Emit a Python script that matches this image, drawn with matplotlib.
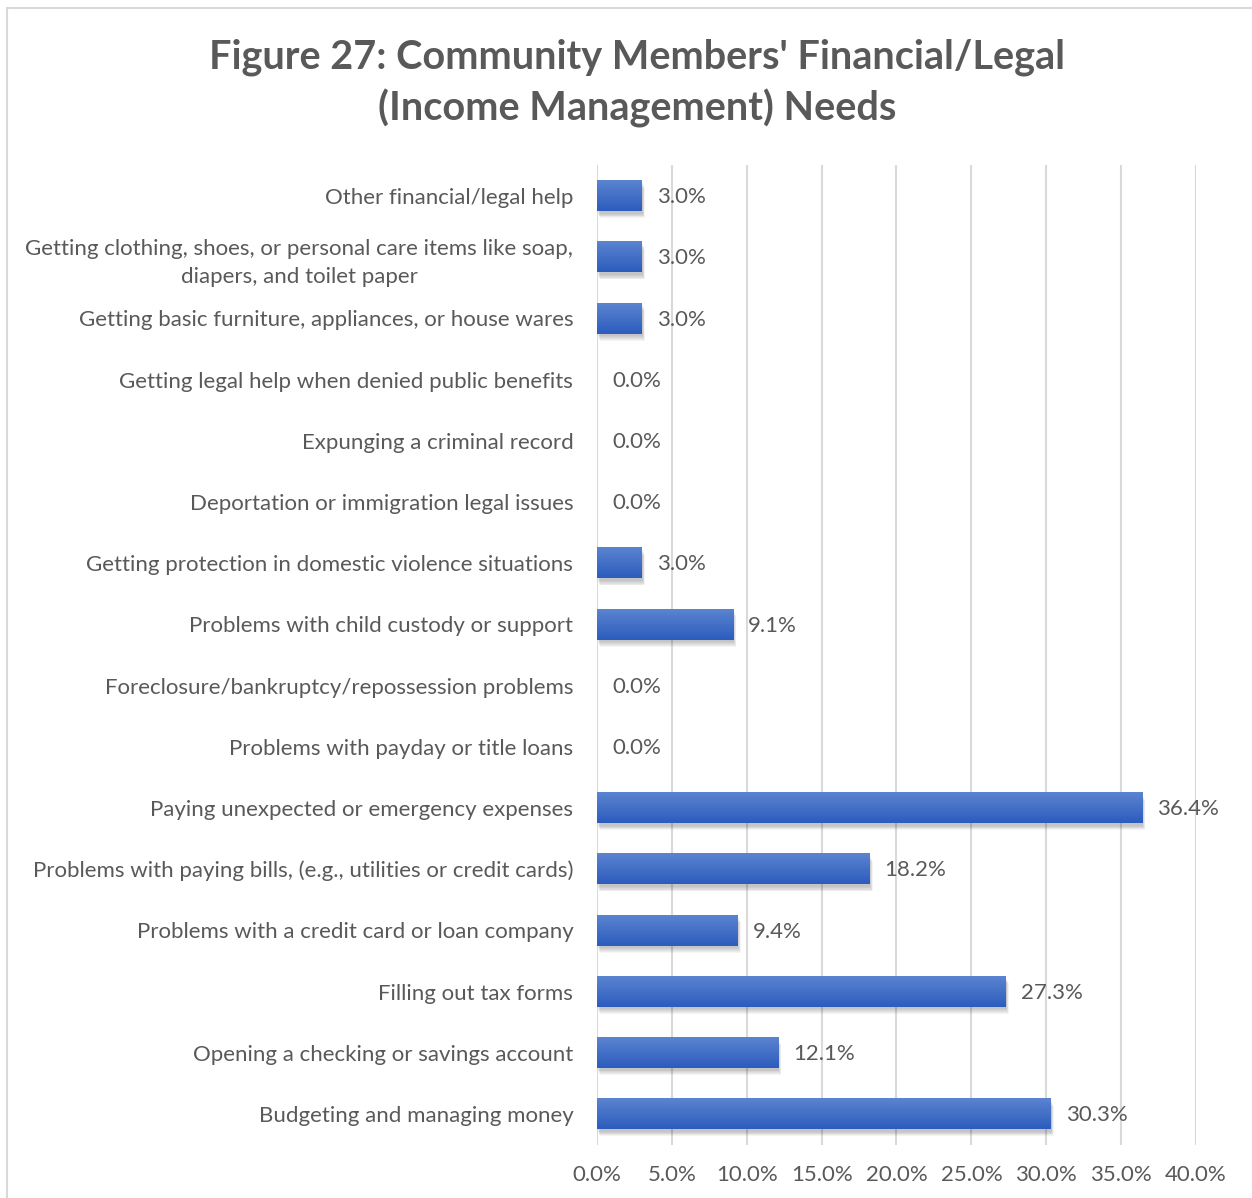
import numpy as np
import matplotlib.pyplot as plt
from matplotlib.patches import Rectangle
from matplotlib.colors import LinearSegmentedColormap

# categories listed top to bottom as in the chart
categories = [
    "Other financial/legal help",
    "Getting clothing, shoes, or personal care items like soap,\ndiapers, and toilet paper",
    "Getting basic furniture, appliances, or house wares",
    "Getting legal help when denied public benefits",
    "Expunging a criminal record",
    "Deportation or immigration legal issues",
    "Getting protection in domestic violence situations",
    "Problems with child custody or support",
    "Foreclosure/bankruptcy/repossession problems",
    "Problems with payday or title loans",
    "Paying unexpected or emergency expenses",
    "Problems with paying bills, (e.g., utilities or credit cards)",
    "Problems with a credit card or loan company",
    "Filling out tax forms",
    "Opening a checking or savings account",
    "Budgeting and managing money",
]
values = [3.0, 3.0, 3.0, 0.0, 0.0, 0.0, 3.0, 9.1, 0.0, 0.0, 36.4, 18.2, 9.4, 27.3, 12.1, 30.3]
xticks = [0, 5, 10, 15, 20, 25, 30, 35, 40]

plt.rcParams['font.family'] = ['Lato', 'DejaVu Sans']
text_color = '#595959'

fig = plt.figure(figsize=(12.52, 11.98), dpi=100)
ax = fig.add_axes([0.4768, 0.0446, 0.9553 - 0.4768, 0.862 - 0.0446])

n = len(categories)
ypos = np.arange(n)[::-1]
bh = 0.5

# gradient image for bars
grad = np.linspace(0, 1, 64).reshape(-1, 1)
cmap = LinearSegmentedColormap.from_list('bar', ['#2c5cbd', '#5b84d0'])

for y, v in zip(ypos, values):
    if v > 0:
        # soft drop shadow
        for k in range(6):
            off = 0.04 + 0.015 * k
            ax.add_patch(Rectangle((0.05 + 0.03 * k, y - bh / 2 - off), v, bh,
                                   facecolor='#303030', alpha=0.05, edgecolor='none', zorder=2))
        ax.imshow(grad, cmap=cmap, aspect='auto', origin='lower',
                  extent=(0, v, y - bh / 2, y + bh / 2), zorder=3)
    ax.text(v + 1.0, y - 0.02, f"{v:.1f}%", va='center', ha='left', fontsize=16, color=text_color, zorder=4)

ax.set_xlim(0, 40)
ax.set_ylim(-0.5, n - 0.5)
ax.set_xticks(xticks)
ax.set_xticklabels([f"{t:.1f}%" for t in xticks], fontsize=16, color=text_color)
ax.set_yticks(ypos)
ax.set_yticklabels(categories, fontsize=16, color=text_color, ha='right')
for lbl in ax.get_yticklabels():
    lbl.set_multialignment('center')
    lbl.set_linespacing(1.5)
ax.tick_params(axis='y', length=0, pad=17)
ax.tick_params(axis='x', length=0, pad=15)
ax.grid(axis='x', color='#d9d9d9', linewidth=1.5, zorder=0)
ax.set_axisbelow(True)
for s in ax.spines.values():
    s.set_visible(False)

fig.text(0.5089, 0.9305, "Figure 27: Community Members' Financial/Legal\n(Income Management) Needs",
         ha='center', va='center', fontsize=28.5, fontweight='bold', color=text_color, linespacing=1.38)

# outer chart border
fig.add_artist(Rectangle((7 / 1252, -0.01), 1.02, 1 - 8 / 1198 + 0.01, transform=fig.transFigure,
                         facecolor='none', edgecolor='#d9d9d9', linewidth=1.5))

fig.savefig('out.png', dpi=100)
